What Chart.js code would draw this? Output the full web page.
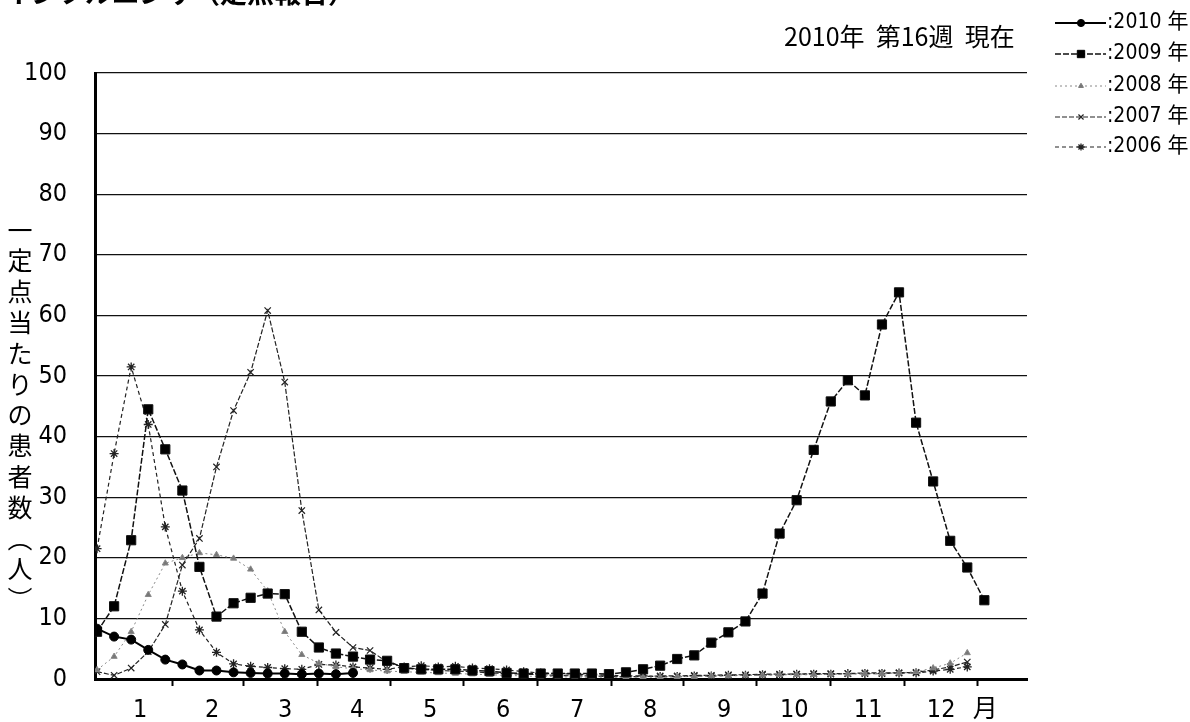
<!DOCTYPE html>
<html>
<head>
<meta charset="utf-8">
<script src="https://cdn.jsdelivr.net/npm/chart.js@4/dist/chart.umd.min.js"></script>
<style>
  html, body { margin: 0; padding: 0; background: #fff; }
</style>
</head>
<body>
<canvas id="fluChart" width="1190" height="722"></canvas>
<script>
// week numbers (x)
const weeks = [1, 2, 3, 4, 5, 6, 7, 8, 9, 10, 11, 12, 13, 14, 15, 16, 17, 18, 19, 20,
  21, 22, 23, 24, 25, 26, 27, 28, 29, 30, 31, 32, 33, 34, 35, 36, 37, 38, 39, 40,
  41, 42, 43, 44, 45, 46, 47, 48, 49, 50, 51, 52, 53];

// patients per sentinel site
const v2010 = [8.3, 7.0, 6.5, 4.8, 3.2, 2.4, 1.4, 1.4, 1.1, 1.0, 0.9, 0.9, 0.8, 0.9, 0.8, 1.0];
const v2009 = [7.8, 12.0, 22.9, 44.5, 37.9, 31.1, 18.5, 10.3, 12.5, 13.4, 14.1, 14.0, 7.8, 5.2, 4.2, 3.7,
  3.2, 3.0, 1.8, 1.6, 1.6, 1.6, 1.4, 1.3, 1.0, 0.9, 0.9, 0.9, 0.9, 0.9, 0.8, 1.1, 1.6, 2.2, 3.3, 3.9,
  6.0, 7.7, 9.5, 14.1, 24.0, 29.5, 37.8, 45.8, 49.3, 46.8, 58.5, 63.8, 42.3, 32.6, 22.8, 18.4, 13.0];
const v2008 = [1.5, 3.7, 7.8, 13.9, 19.1, 20.0, 20.8, 20.5, 19.9, 18.1, 14.5, 7.8, 4.0, 2.6, 2.0, 1.7,
  1.5, 1.3, 1.2, 1.1, 1.0, 0.9, 0.8, 0.7, 0.6, 0.5, 0.4, 0.4, 0.3, 0.3, 0.3, 0.3, 0.3, 0.3, 0.4, 0.4,
  0.5, 0.5, 0.6, 0.6, 0.7, 0.7, 0.7, 0.8, 0.8, 0.9, 0.9, 1.0, 1.2, 1.8, 2.6, 4.3];
const v2007 = [1.2, 0.6, 1.8, 4.5, 9.0, 18.8, 23.2, 35.0, 44.3, 50.6, 60.8, 49.0, 27.8, 11.4, 7.7, 5.2,
  4.7, 2.8, 1.9, 1.6, 1.4, 1.3, 1.2, 1.0, 0.9, 0.8, 0.7, 0.6, 0.5, 0.5, 0.4, 0.4, 0.4, 0.5, 0.5, 0.6,
  0.6, 0.7, 0.7, 0.8, 0.8, 0.8, 0.9, 0.9, 0.9, 1.0, 1.0, 1.0, 1.1, 1.5, 2.0, 2.8];
const v2006 = [21.5, 37.2, 51.5, 42.0, 25.1, 14.5, 8.1, 4.4, 2.5, 2.1, 1.9, 1.7, 1.6, 2.4, 2.3, 2.0,
  1.8, 1.6, 2.0, 2.2, 2.0, 2.1, 1.8, 1.7, 1.5, 1.2, 1.0, 0.9, 0.8, 0.7, 0.6, 0.5, 0.5, 0.4, 0.4, 0.5,
  0.5, 0.6, 0.6, 0.7, 0.7, 0.8, 0.8, 0.8, 0.9, 0.9, 0.9, 1.0, 1.0, 1.3, 1.6, 2.0];

const seriesNames = [':2010 年', ':2009 年', ':2008 年', ':2007 年', ':2006 年'];

// x axis: month boundary tick marks and month labels (in week units)
const monthTickWeeks = [5.4, 9.56, 13.9, 18.17, 22.45, 26.79, 31.13, 35.35, 39.63, 43.97, 48.31, 52.58];
const monthLabelWeeks = [3.52, 7.74, 12.02, 16.24, 20.52, 24.8, 29.14, 33.41, 37.75, 41.86, 46.19, 50.47, 53.05];
const monthLabels = ['1', '2', '3', '4', '5', '6', '7', '8', '9', '10', '11', '12', '月'];

const yTicks = [0, 10, 20, 30, 40, 50, 60, 70, 80, 90, 100];

const titleText = 'インフルエンザ（定点報告）';
const subText = '2010年  第16週  現在';
const yTitleChars = ['一', '定', '点', '当', 'た', 'り', 'の', '患', '者', '数', '︵', '人', '︶'];

const NARROW = "'Liberation Sans Narrow', 'DejaVu Sans Condensed', 'Noto Sans CJK JP', sans-serif";
const CJK = "'Noto Sans CJK JP', sans-serif";

const pts = arr => arr.map((v, i) => ({x: weeks[i], y: v}));

const datasets = [
  {label: seriesNames[0], data: pts(v2010), borderColor: '#000', backgroundColor: '#000',
   borderWidth: 2, pointStyle: 'circle', pointRadius: 4.5, pointBorderWidth: 1},
  {label: seriesNames[1], data: pts(v2009), borderColor: '#111', backgroundColor: '#000',
   borderWidth: 1.5, borderDash: [6, 2], pointStyle: 'rect', pointRadius: 6.5, pointBorderWidth: 1},
  {label: seriesNames[2], data: pts(v2008), borderColor: '#888', backgroundColor: '#777',
   borderWidth: 1, borderDash: [2, 3], pointStyle: 'triangle', pointRadius: 3.5, pointBorderWidth: 1},
  {label: seriesNames[3], data: pts(v2007), borderColor: '#222', backgroundColor: '#222',
   borderWidth: 1.2, borderDash: [5, 2], pointStyle: 'crossRot', pointRadius: 4.5, pointBorderWidth: 1.2},
  {label: seriesNames[4], data: pts(v2006), borderColor: '#222', backgroundColor: '#222',
   borderWidth: 1.2, borderDash: [4, 3], pointStyle: 'star', pointRadius: 4.5, pointBorderWidth: 1.3}
];

const textPlugin = {
  id: 'textPlugin',
  afterDraw(chart) {
    const ctx = chart.ctx;
    ctx.save();
    // cut-off title at the very top
    ctx.fillStyle = '#000';
    ctx.font = 'bold 27px ' + CJK;
    ctx.textAlign = 'left';
    ctx.textBaseline = 'alphabetic';
    ctx.fillText(titleText, 4, 3);

    // date note
    ctx.font = '25px ' + CJK;
    ctx.textBaseline = 'middle';
    ctx.fillText(subText, 784, 36);

    // vertical y title, upright characters
    ctx.font = '25px ' + CJK;
    ctx.textAlign = 'center';
    yTitleChars.forEach((c, i) => {
      ctx.fillText(c, 20, 230 + i * 30.8);
    });

    // legend
    const rowY = [23, 54, 86, 117, 147];
    chart.data.datasets.forEach((ds, i) => {
      const y = rowY[i];
      ctx.save();
      ctx.strokeStyle = ds.borderColor;
      ctx.lineWidth = ds.borderWidth;
      ctx.setLineDash(ds.borderDash || []);
      ctx.beginPath();
      ctx.moveTo(1055, y);
      ctx.lineTo(1106, y);
      ctx.stroke();
      ctx.setLineDash([]);
      ctx.fillStyle = ds.backgroundColor;
      ctx.strokeStyle = ds.backgroundColor;
      ctx.lineWidth = ds.pointBorderWidth;
      Chart.helpers.drawPoint(ctx, {pointStyle: ds.pointStyle, radius: ds.pointRadius * 0.8,
        rotation: 0, borderWidth: ds.pointBorderWidth}, 1081, y);
      ctx.restore();
      ctx.fillStyle = '#000';
      ctx.textAlign = 'left';
      ctx.textBaseline = 'middle';
      ctx.font = '21px ' + NARROW;
      ctx.fillText(ds.label, 1107, y);
    });
    ctx.restore();
  }
};

new Chart(document.getElementById('fluChart').getContext('2d'), {
  type: 'line',
  data: {datasets: datasets},
  options: {
    responsive: false,
    animation: false,
    layout: {padding: {top: 73, right: 163, left: 0, bottom: 0}},
    plugins: {legend: {display: false}, tooltip: {enabled: false}},
    scales: {
      x: {
        type: 'linear',
        min: 0.88,
        max: 55.5,
        afterFit: s => { s.height = 41; },
        afterBuildTicks: s => {
          s.ticks = monthTickWeeks.map(v => ({value: v}))
            .concat(monthLabelWeeks.map(v => ({value: v})));
        },
        ticks: {
          autoSkip: false,
          maxRotation: 0,
          padding: 9,
          color: '#000',
          font: {family: NARROW, size: 25},
          callback: (v) => {
            const k = monthLabelWeeks.indexOf(v);
            return k >= 0 ? monthLabels[k] : '';
          }
        },
        grid: {
          drawOnChartArea: false,
          drawTicks: true,
          tickLength: 7,
          tickWidth: 2,
          tickColor: c => (c.tick && monthTickWeeks.includes(c.tick.value)) ? '#000' : 'rgba(0,0,0,0)'
        },
        border: {color: '#000', width: 3}
      },
      y: {
        min: 0,
        max: 100,
        afterFit: s => { s.width = 95; },
        afterBuildTicks: s => { s.ticks = yTicks.map(v => ({value: v})); },
        ticks: {
          padding: 28,
          color: '#000',
          font: {family: NARROW, size: 25}
        },
        grid: {color: '#111', lineWidth: 1.2, drawTicks: false},
        border: {color: '#000', width: 3}
      }
    }
  },
  plugins: [textPlugin]
});
</script>
</body>
</html>
